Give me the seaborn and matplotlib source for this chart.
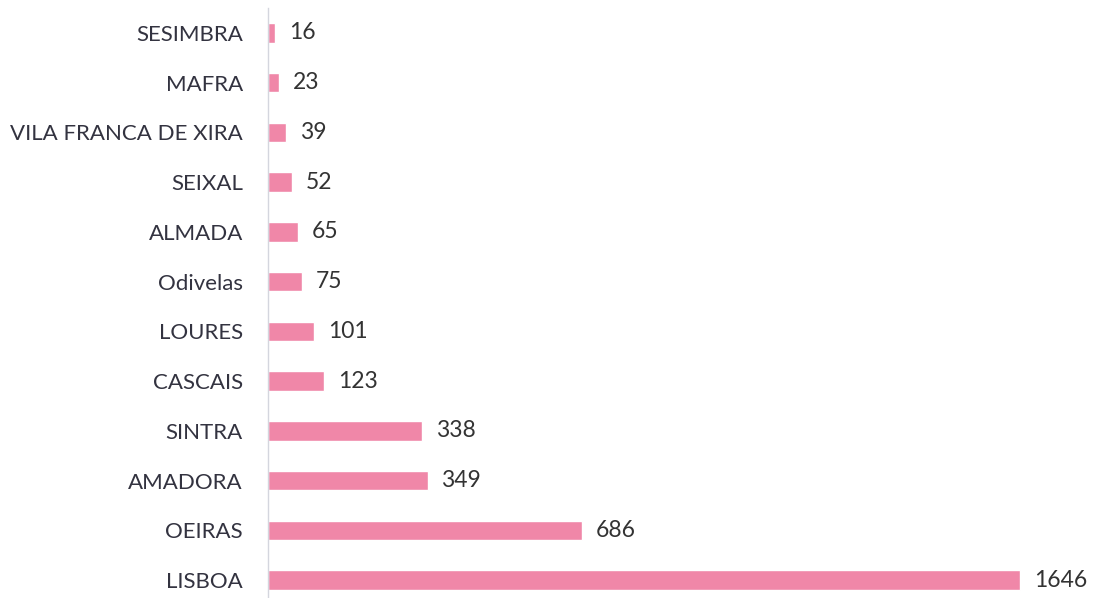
import matplotlib
matplotlib.use("Agg")
import matplotlib.pyplot as plt
import seaborn as sns
import pandas as pd

categories = ["SESIMBRA", "MAFRA", "VILA FRANCA DE XIRA", "SEIXAL", "ALMADA", "Odivelas",
              "LOURES", "CASCAIS", "SINTRA", "AMADORA", "OEIRAS", "LISBOA"]
values = [16, 23, 39, 52, 65, 75, 101, 123, 338, 349, 686, 1646]

df = pd.DataFrame({"municipio": categories, "valor": values})

sns.set_theme(style="white")
plt.rcParams['font.family'] = ['Lato', 'DejaVu Sans']

fig = plt.figure(figsize=(10.93, 5.98), dpi=100)
ax = fig.add_axes([268/1093, 0, (1093-268)/1093, 590/598])
sns.barplot(data=df, y="municipio", x="valor", orient="h", color="#f087a8",
            saturation=1, width=0.39, ax=ax)
ax.set_xlim(0, 1805)
ax.set_ylim(11.36, -0.5)
for c in ax.containers:
    ax.bar_label(c, padding=10, fontsize=16.5, color="#333333")
ax.set_xlabel("")
ax.set_ylabel("")
ax.set_xticks([])
for s in ["top", "right", "bottom"]:
    ax.spines[s].set_visible(False)
ax.spines["left"].set_color("#d4d6de")
ax.spines["left"].set_linewidth(1)
ax.tick_params(axis="y", length=0, pad=18, labelsize=16, labelcolor="#333340")
fig.savefig("out.png", dpi=100)
